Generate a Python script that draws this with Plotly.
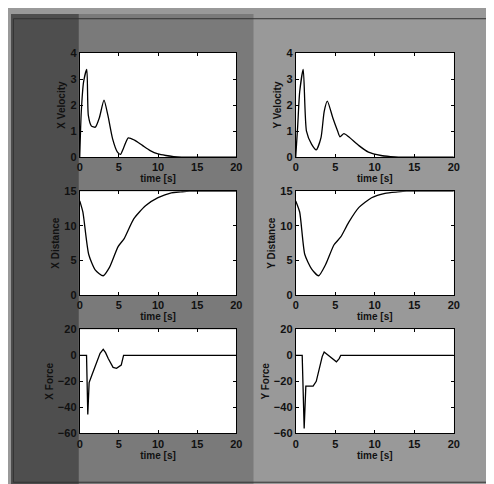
import plotly.graph_objects as go

# ---------------- data ----------------
t_vx = [0, 0.2, 0.5, 0.9, 1.1, 1.5, 2.0, 2.5, 3.1, 3.6, 4.2, 4.8, 5.2, 5.6, 6.2, 7.0, 8.0, 9.0, 10.0, 11.0, 12.0, 13.0, 16.0, 20.0]
vx = [0, 1.75, 2.9, 3.37, 1.6, 1.19, 1.15, 1.5, 2.19, 1.6, 0.7, 0.2, 0.1, 0.35, 0.74, 0.65, 0.45, 0.25, 0.12, 0.06, 0.02, 0.0, 0.0, 0.0]

t_vy = [0, 0.25, 0.5, 0.95, 1.36, 2.0, 2.6, 3.2, 3.6, 4.0, 4.7, 5.3, 5.6, 6.1, 6.7, 8.0, 9.2, 10.8, 12.0, 13.0, 16.0, 20.0]
vy = [0, 1.2, 2.5, 3.37, 1.0, 0.5, 0.28, 0.75, 1.75, 2.15, 1.5, 1.0, 0.78, 0.9, 0.78, 0.44, 0.19, 0.06, 0.02, 0.0, 0.0, 0.0]

t_dx = [0, 0.4, 1.15, 2.0, 3.0, 3.8, 4.9, 5.7, 6.9, 8.4, 10.0, 11.7, 12.9, 14.0, 17.0, 20.0]
dx = [13.6, 12.0, 5.86, 3.6, 2.8, 4.0, 7.0, 8.2, 11.0, 12.9, 14.06, 14.77, 14.9, 15.0, 15.0, 15.0]

t_dy = [0, 0.5, 1.15, 2.0, 2.9, 3.8, 4.85, 5.7, 6.7, 8.0, 9.6, 11.3, 12.9, 14.0, 17.0, 20.0]
dy = [13.6, 12.0, 5.86, 3.8, 2.8, 4.45, 7.27, 8.4, 10.5, 12.66, 14.06, 14.7, 14.9, 15.0, 15.0, 15.0]

t_fx = [0, 0.87, 1.03, 1.2, 1.57, 2.2, 2.6, 3.0, 3.3, 3.64, 4.26, 4.7, 5.1, 5.3, 5.6, 20.0]
fx = [0, 0, -45.5, -21, -15, -5, 1.5, 4.5, 2.0, -2.5, -9.25, -10, -8.75, -7.5, 0, 0]

t_fy = [0, 0.82, 1.07, 1.28, 1.57, 2.2, 2.6, 3.1, 3.35, 3.6, 3.9, 4.25, 4.8, 5.15, 5.5, 5.7, 20.0]
fy = [0, 0, -56.25, -23.75, -23.75, -23.75, -20, -7.5, -1.0, 2.5, 1.0, -1.25, -4, -5, -2.5, 0, 0]

x_ticks = [0, 5, 10, 15, 20]
vel_ticks = [0, 1, 2, 3, 4]
dist_ticks = [0, 5, 10, 15]
force_ticks = [20, 0, -20, -40, -60]
x_title = "time [s]"
y_titles = ["X Velocity", "Y Velocity", "X Distance", "Y Distance", "X Force", "Y Force"]

# ---------------- figure ----------------
fig = go.Figure()
series = [(t_vx, vx), (t_vy, vy), (t_dx, dx), (t_dy, dy), (t_fx, fx), (t_fy, fy)]
yranges = [[0, 4], [0, 4], [0, 15], [0, 15], [-60, 20], [-60, 20]]
yticks = [vel_ticks, vel_ticks, dist_ticks, dist_ticks, force_ticks, force_ticks]
line_shapes = ["spline", "spline", "spline", "spline", "linear", "linear"]

W, H = 494, 484
xdoms = [[70 / W, 229.5 / W], [290 / W, 451 / W]]
ydoms = [[1 - 146.7 / H, 1 - 40 / H], [1 - 288.3 / H, 1 - 181.7 / H], [1 - 430 / H, 1 - 323.3 / H]]

tick_font = dict(family="Liberation Sans", size=11, color="#111111", weight="bold")
title_font = dict(family="Liberation Sans", size=10, color="#111111", weight="bold")

shapes = [
    dict(type="rect", xref="paper", yref="paper", x0=0, x1=0.14, y0=0, y1=1, fillcolor="#4e4e4e", line_width=0, layer="below"),
    dict(type="rect", xref="paper", yref="paper", x0=0.14, x1=0.5, y0=0, y1=1, fillcolor="#7a7a7a", line_width=0, layer="below"),
    dict(type="rect", xref="paper", yref="paper", x0=0.005, x1=0.99, y0=0.008, y1=0.99,
         line=dict(color="#333333", width=1), fillcolor="rgba(0,0,0,0)", layer="below"),
]

for i, (tx, v) in enumerate(series):
    row, col = divmod(i, 2)
    n = i + 1
    xa = "x" if n == 1 else f"x{n}"
    ya = "y" if n == 1 else f"y{n}"
    ln = dict(color="black", width=1.3, shape=line_shapes[i])
    if line_shapes[i] == "spline":
        ln["smoothing"] = 0.6
    fig.add_trace(go.Scatter(x=tx, y=v, mode="lines", line=ln,
                             xaxis=xa, yaxis=ya, showlegend=False, hoverinfo="skip"))
    xkey = "xaxis" if n == 1 else f"xaxis{n}"
    ykey = "yaxis" if n == 1 else f"yaxis{n}"
    fig.layout[xkey] = dict(domain=xdoms[col], anchor=ya, range=[0, 20], tickvals=x_ticks,
                            ticks="inside", ticklen=3, tickcolor="black", mirror="ticks",
                            showline=True, linecolor="black", linewidth=1, showgrid=False, zeroline=False,
                            tickfont=tick_font, title=dict(text=x_title, font=title_font, standoff=2))
    fig.layout[ykey] = dict(domain=ydoms[row], anchor=xa, range=yranges[i], tickvals=yticks[i],
                            ticks="inside", ticklen=3, tickcolor="black", mirror="ticks",
                            showline=True, linecolor="black", linewidth=1, showgrid=False, zeroline=False,
                            tickfont=tick_font, title=dict(text=y_titles[i], font=title_font, standoff=2))
    shapes.append(dict(type="rect", xref="paper", yref="paper", x0=xdoms[col][0], x1=xdoms[col][1],
                       y0=ydoms[row][0], y1=ydoms[row][1], fillcolor="white", line_width=0, layer="below"))

fig.update_layout(width=W, height=H, margin=dict(l=0, r=0, t=0, b=0),
                  paper_bgcolor="#999999", plot_bgcolor="white", shapes=shapes)

fig.write_html("out.html")
